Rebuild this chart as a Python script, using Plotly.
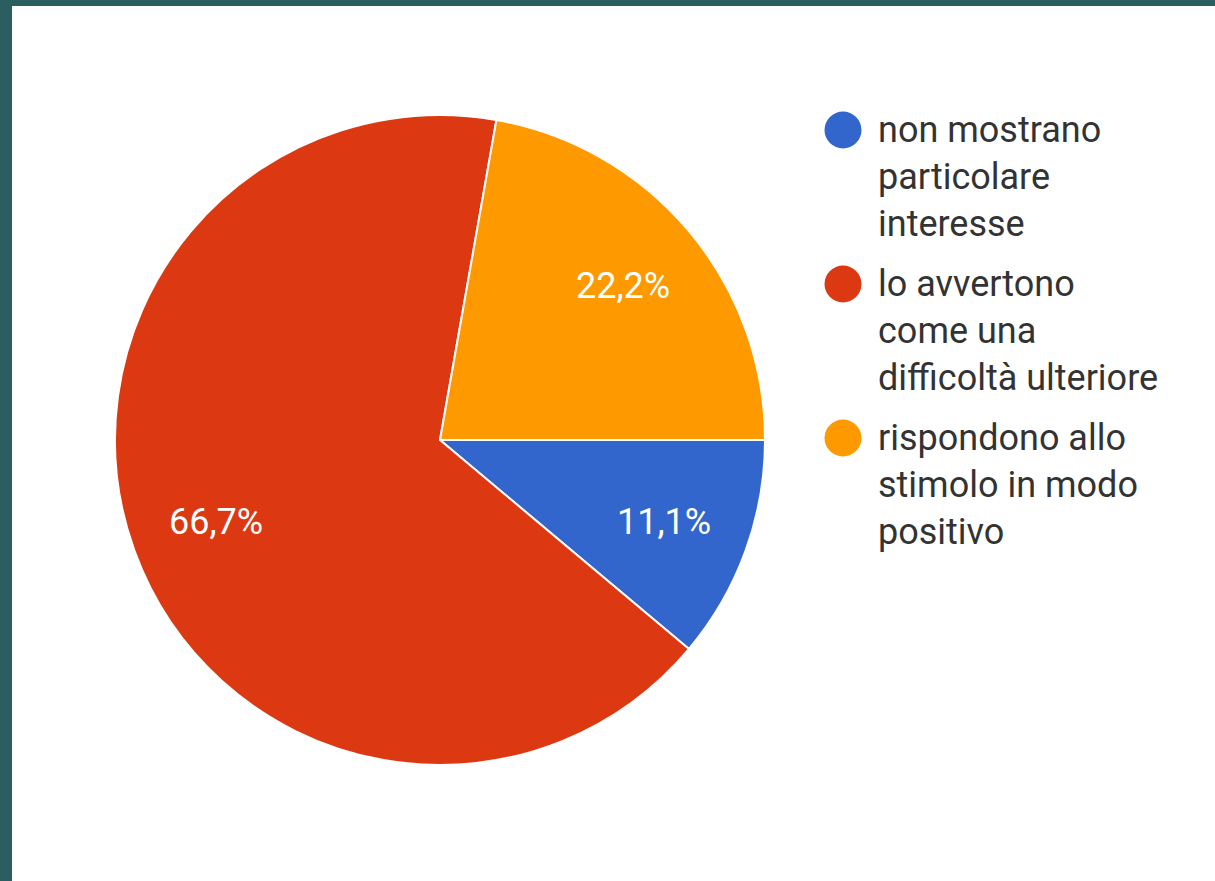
import math
import plotly.graph_objects as go

# ---- data ----
labels = [
    "non mostrano particolare interesse",
    "lo avvertono come una difficoltà ulteriore",
    "rispondono allo stimolo in modo positivo",
]
legend_lines = [
    ["non mostrano", "particolare", "interesse"],
    ["lo avvertono", "come una", "difficoltà ulteriore"],
    ["rispondono allo", "stimolo in modo", "positivo"],
]
values = [1, 6, 2]
colors = ["#3366CC", "#DC3912", "#FF9900"]

# ---- layout helpers (page pixels -> paper fraction) ----
W, H = 1215, 881
L, T = 12, 6


def px(x):
    return (x - L) / (W - L)


def py(y):
    return (H - y) / (H - T)


# pie geometry (page pixels)
pie_left, pie_right, pie_top, pie_bottom = 115, 765, 115, 765
cx = (pie_left + pie_right) / 2
cy = (pie_top + pie_bottom) / 2
R = (pie_right - pie_left) / 2
label_r = 0.735 * R

fig = go.Figure()
fig.add_trace(
    go.Pie(
        labels=labels,
        values=values,
        sort=False,
        direction="clockwise",
        rotation=90,
        marker=dict(colors=colors, line=dict(color="white", width=2)),
        textinfo="none",
        domain=dict(x=[px(pie_left), px(pie_right)], y=[py(pie_bottom), py(pie_top)]),
        showlegend=False,
    )
)

shapes = [
    dict(
        type="rect",
        xref="paper",
        yref="paper",
        x0=0,
        x1=1,
        y0=0,
        y1=1,
        fillcolor="white",
        line=dict(width=0),
        layer="below",
    )
]
annotations = []

# slice percentage labels, positioned from the data
total = sum(values)
cum = 0.0
for v in values:
    start = -cum / total * 360.0
    mid = start - v / total * 180.0
    cum += v
    a = math.radians(mid)
    lx = cx + label_r * math.cos(a)
    ly = cy - label_r * math.sin(a)
    annotations.append(
        dict(
            text=f"{v / total * 100:.1f}%".replace(".", ","),
            xref="paper",
            yref="paper",
            x=px(lx),
            y=py(ly),
            xanchor="center",
            yanchor="middle",
            showarrow=False,
            font=dict(family="Roboto", size=36, color="white"),
        )
    )

# custom legend with circular swatches
first_y = 130
line_h = 47
gap = 154
for i, (lines, col) in enumerate(zip(legend_lines, colors)):
    yc = first_y + i * gap
    shapes.append(
        dict(
            type="circle",
            xref="paper",
            yref="paper",
            xsizemode="pixel",
            ysizemode="pixel",
            xanchor=px(843),
            yanchor=py(yc),
            x0=-18.5,
            x1=18.5,
            y0=-18.5,
            y1=18.5,
            fillcolor=col,
            line=dict(width=0),
        )
    )
    annotations.append(
        dict(
            text="<br>".join(lines),
            xref="paper",
            yref="paper",
            x=px(876),
            y=py(yc + line_h),
            xanchor="left",
            yanchor="middle",
            align="left",
            showarrow=False,
            font=dict(family="Roboto", size=36, color="#333333"),
        )
    )

fig.update_layout(
    width=W,
    height=H,
    margin=dict(l=L, r=0, t=T, b=0),
    paper_bgcolor="#2B5E5E",
    plot_bgcolor="white",
    xaxis=dict(visible=False),
    yaxis=dict(visible=False),
    separators=",.",
    shapes=shapes,
    annotations=annotations,
)

fig.write_html(
    "out.html",
    config={"displayModeBar": False},
    post_script="document.body.style.margin='0';",
)
